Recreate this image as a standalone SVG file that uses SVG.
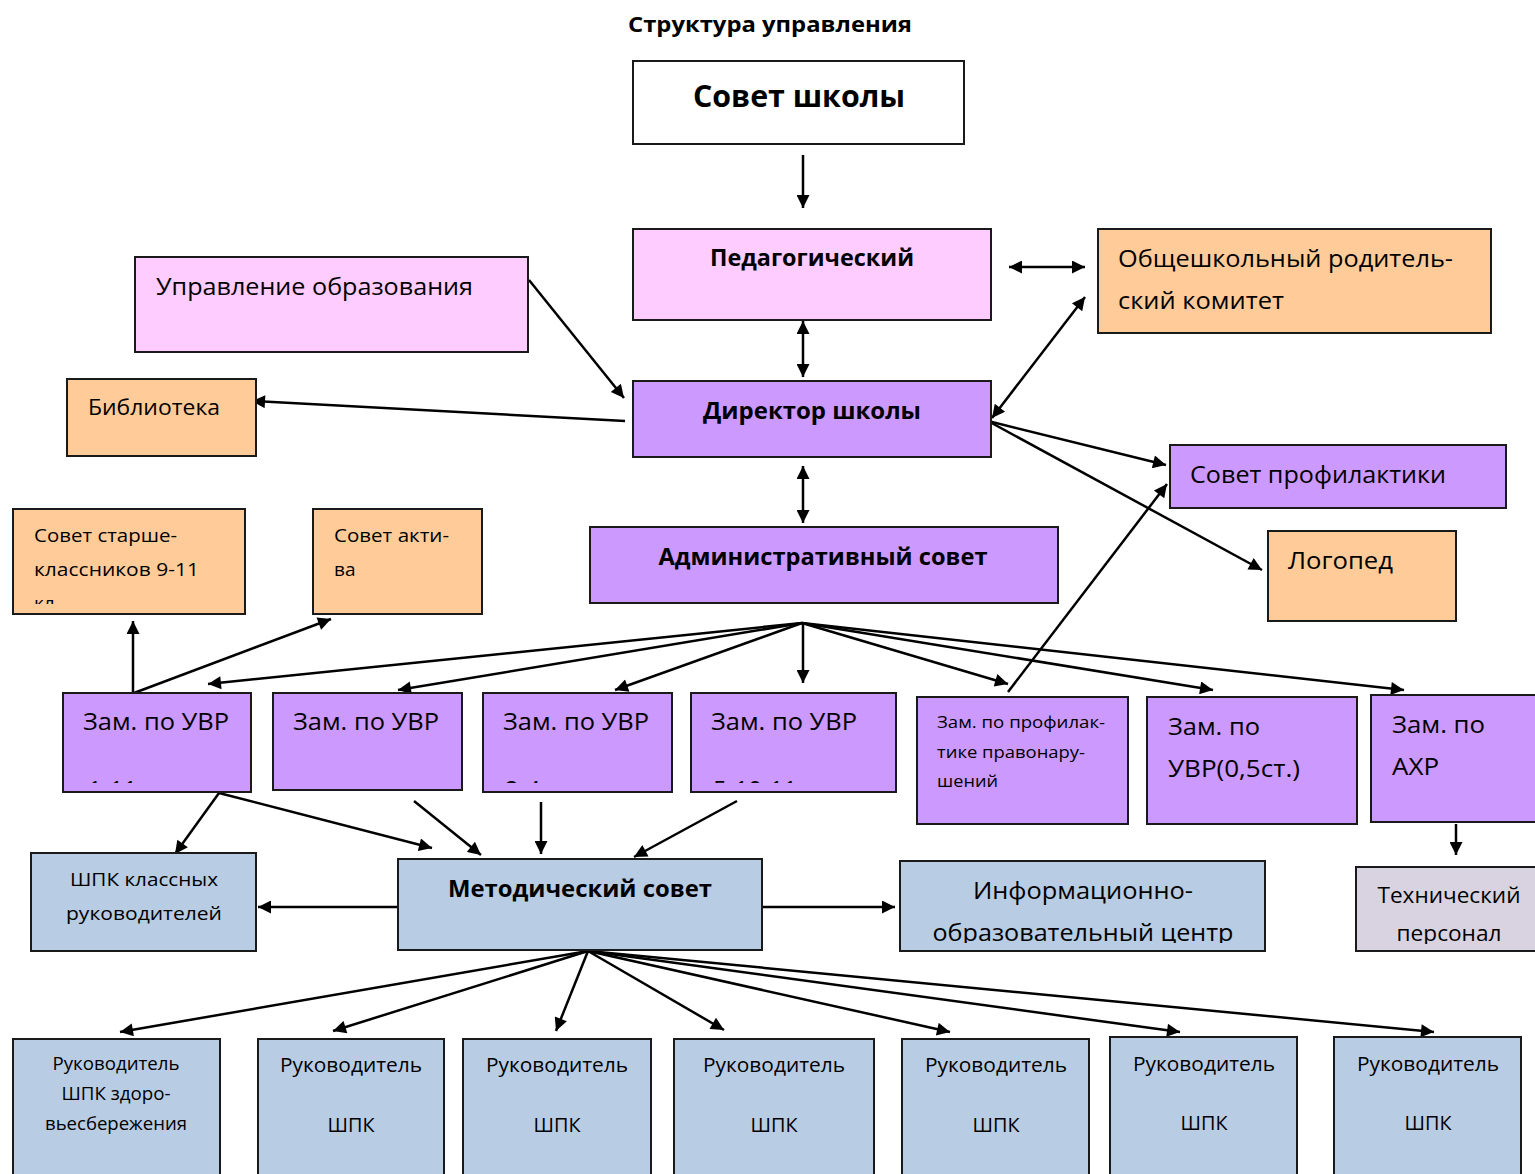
<svg xmlns="http://www.w3.org/2000/svg" width="1535" height="1174" viewBox="0 0 1535 1174">
<style>
.box{stroke:#1a1a1a;stroke-width:2}
.w{fill:#ffffff}.pk{fill:#FFCCFF}.or{fill:#FFCC99}.pu{fill:#CC99FF}.bl{fill:#B8CCE4}.gr{fill:#D9D3E1}
text{font-family:"Open Sans","Noto Sans","Liberation Sans",sans-serif;fill:#000}
.b{font-weight:bold}
.c{stroke:#000;stroke-width:2.5;fill:none}
.e{marker-end:url(#ah)}
.s{marker-start:url(#ah)}
</style>
<defs>
<marker id="ah" viewBox="0 0 10 10" refX="10" refY="5" markerWidth="17" markerHeight="13" markerUnits="userSpaceOnUse" orient="auto-start-reverse"><path d="M0,0 L10,5 L0,10 z" fill="#000"/></marker>
<clipPath id="cp1"><rect x="13" y="509" width="232" height="95"/></clipPath>
<clipPath id="cz1"><rect x="63" y="693" width="188" height="90"/></clipPath>
<clipPath id="cz3"><rect x="483" y="693" width="189" height="90"/></clipPath>
<clipPath id="cz4"><rect x="691" y="693" width="205" height="90"/></clipPath>
<clipPath id="cinf"><rect x="900" y="861" width="365" height="82"/></clipPath>
<clipPath id="ctech"><rect x="1356" y="867" width="184" height="77"/></clipPath>
</defs>

<text x="770" y="32" class="b" font-size="21" text-anchor="middle" textLength="284" lengthAdjust="spacingAndGlyphs">Структура управления</text>

<g id="connectors">
<line class="c e" x1="803" y1="155" x2="803" y2="208"/>
<line class="c e s" x1="1009" y1="267" x2="1085" y2="267"/>
<line class="c e s" x1="803" y1="321" x2="803" y2="377"/>
<line class="c e" x1="529" y1="280" x2="624" y2="398"/>
<line class="c e" x1="625" y1="421" x2="252" y2="401"/>
<line class="c e s" x1="992" y1="418" x2="1085" y2="297"/>
<line class="c e" x1="988" y1="421" x2="1166" y2="465"/>
<line class="c e" x1="988" y1="421" x2="1262" y2="570"/>
<line class="c e s" x1="803" y1="466" x2="803" y2="523"/>
<line class="c e" x1="802" y1="623" x2="208" y2="684"/>
<line class="c e" x1="802" y1="623" x2="398" y2="690"/>
<line class="c e" x1="802" y1="623" x2="615" y2="690"/>
<line class="c e" x1="803" y1="623" x2="803" y2="683"/>
<line class="c e" x1="802" y1="623" x2="1008" y2="684"/>
<line class="c e" x1="802" y1="623" x2="1213" y2="690"/>
<line class="c e" x1="802" y1="623" x2="1404" y2="690"/>
<line class="c e" x1="1008" y1="692" x2="1167" y2="484"/>
<line class="c e" x1="133" y1="693" x2="133" y2="621"/>
<line class="c e" x1="134" y1="693" x2="331" y2="619"/>
<line class="c e" x1="219" y1="793" x2="175" y2="854"/>
<line class="c e" x1="219" y1="793" x2="432" y2="848"/>
<line class="c e" x1="414" y1="801" x2="481" y2="855"/>
<line class="c e" x1="541" y1="802" x2="541" y2="854"/>
<line class="c e" x1="737" y1="801" x2="634" y2="857"/>
<line class="c e" x1="398" y1="907" x2="258" y2="907"/>
<line class="c e" x1="763" y1="907" x2="895" y2="907"/>
<line class="c e" x1="1456" y1="824" x2="1456" y2="855"/>
<line class="c e" x1="588" y1="951" x2="120" y2="1032"/>
<line class="c e" x1="588" y1="951" x2="333" y2="1031"/>
<line class="c e" x1="588" y1="951" x2="556" y2="1031"/>
<line class="c e" x1="588" y1="951" x2="724" y2="1030"/>
<line class="c e" x1="588" y1="951" x2="950" y2="1032"/>
<line class="c e" x1="588" y1="951" x2="1180" y2="1032"/>
<line class="c e" x1="588" y1="951" x2="1434" y2="1032"/>
</g>

<g id="n-sovet-shkoly"><rect class="box w" x="633" y="61" width="331" height="83"/>
<text x="799" y="107" class="b" font-size="31" text-anchor="middle" textLength="212" lengthAdjust="spacingAndGlyphs">Совет школы</text></g>

<g id="n-ped"><rect class="box pk" x="633" y="229" width="358" height="91"/>
<text x="812" y="266" class="b" font-size="24" text-anchor="middle" textLength="204" lengthAdjust="spacingAndGlyphs">Педагогический</text></g>

<g id="n-uprav"><rect class="box pk" x="135" y="257" width="393" height="95"/>
<text x="156" y="295" font-size="24" textLength="317" lengthAdjust="spacingAndGlyphs">Управление образования</text></g>

<g id="n-rodkom"><rect class="box or" x="1098" y="229" width="393" height="104"/>
<text x="1118" y="267" font-size="24" textLength="335" lengthAdjust="spacingAndGlyphs">Общешкольный родитель-</text>
<text x="1118" y="309" font-size="24" textLength="166" lengthAdjust="spacingAndGlyphs">ский комитет</text></g>

<g id="n-bibl"><rect class="box or" x="67" y="379" width="189" height="77"/>
<text x="88" y="415" font-size="22" textLength="132" lengthAdjust="spacingAndGlyphs">Библиотека</text></g>

<g id="n-dir"><rect class="box pu" x="633" y="381" width="358" height="76"/>
<text x="812" y="419" class="b" font-size="24" text-anchor="middle" textLength="218" lengthAdjust="spacingAndGlyphs">Директор школы</text></g>

<g id="n-sovprof"><rect class="box pu" x="1170" y="445" width="336" height="63"/>
<text x="1190" y="483" font-size="24" textLength="256" lengthAdjust="spacingAndGlyphs">Совет профилактики</text></g>

<g id="n-logoped"><rect class="box or" x="1268" y="531" width="188" height="90"/>
<text x="1288" y="569" font-size="24" textLength="105" lengthAdjust="spacingAndGlyphs">Логопед</text></g>

<g id="n-admin"><rect class="box pu" x="590" y="527" width="468" height="76"/>
<text x="823" y="565" class="b" font-size="24" text-anchor="middle" textLength="329" lengthAdjust="spacingAndGlyphs">Административный совет</text></g>

<g id="n-starshe"><rect class="box or" x="13" y="509" width="232" height="105"/>
<text x="34" y="542" font-size="19" textLength="143" lengthAdjust="spacingAndGlyphs">Совет старше-</text>
<text x="34" y="576" font-size="19" textLength="165" lengthAdjust="spacingAndGlyphs">классников 9-11</text>
<text x="34" y="610" font-size="19" clip-path="url(#cp1)">кл</text></g>

<g id="n-aktiv"><rect class="box or" x="313" y="509" width="169" height="105"/>
<text x="334" y="542" font-size="19" textLength="115" lengthAdjust="spacingAndGlyphs">Совет акти-</text>
<text x="334" y="576" font-size="19">ва</text></g>

<g id="n-zam1"><rect class="box pu" x="63" y="693" width="188" height="99"/>
<text x="83" y="730" font-size="24" textLength="146" lengthAdjust="spacingAndGlyphs">Зам. по УВР</text>
<text x="88" y="798" font-size="24" clip-path="url(#cz1)">1-11</text></g>

<g id="n-zam2"><rect class="box pu" x="273" y="693" width="189" height="97"/>
<text x="293" y="730" font-size="24" textLength="146" lengthAdjust="spacingAndGlyphs">Зам. по УВР</text></g>

<g id="n-zam3"><rect class="box pu" x="483" y="693" width="189" height="99"/>
<text x="503" y="730" font-size="24" textLength="146" lengthAdjust="spacingAndGlyphs">Зам. по УВР</text>
<text x="505" y="798" font-size="24" clip-path="url(#cz3)">2-4</text></g>

<g id="n-zam4"><rect class="box pu" x="691" y="693" width="205" height="99"/>
<text x="711" y="730" font-size="24" textLength="146" lengthAdjust="spacingAndGlyphs">Зам. по УВР</text>
<text x="713" y="798" font-size="24" clip-path="url(#cz4)">5-10-11</text></g>

<g id="n-zamprof"><rect class="box pu" x="917" y="697" width="211" height="127"/>
<text x="937" y="728" font-size="17" textLength="168" lengthAdjust="spacingAndGlyphs">Зам. по профилак-</text>
<text x="937" y="758" font-size="17" textLength="148" lengthAdjust="spacingAndGlyphs">тике правонару-</text>
<text x="937" y="787" font-size="17" textLength="61" lengthAdjust="spacingAndGlyphs">шений</text></g>

<g id="n-zam05"><rect class="box pu" x="1147" y="697" width="210" height="127"/>
<text x="1168" y="735" font-size="24" textLength="92" lengthAdjust="spacingAndGlyphs">Зам. по</text>
<text x="1168" y="777" font-size="24" textLength="132" lengthAdjust="spacingAndGlyphs">УВР(0,5ст.)</text></g>

<g id="n-ahr"><rect class="box pu" x="1371" y="695" width="170" height="127"/>
<text x="1392" y="733" font-size="24" textLength="93" lengthAdjust="spacingAndGlyphs">Зам. по</text>
<text x="1392" y="775" font-size="24" textLength="47" lengthAdjust="spacingAndGlyphs">АХР</text></g>

<g id="n-tech"><rect class="box gr" x="1356" y="867" width="184" height="84"/>
<text x="1449" y="903" font-size="22" text-anchor="middle" textLength="143" lengthAdjust="spacingAndGlyphs">Технический</text>
<text x="1449" y="941" font-size="22" text-anchor="middle" textLength="105" lengthAdjust="spacingAndGlyphs" clip-path="url(#ctech)">персонал</text></g>

<g id="n-shpkkl"><rect class="box bl" x="31" y="853" width="225" height="98"/>
<text x="144" y="886" font-size="19" text-anchor="middle" textLength="148" lengthAdjust="spacingAndGlyphs">ШПК классных</text>
<text x="144" y="920" font-size="19" text-anchor="middle" textLength="156" lengthAdjust="spacingAndGlyphs">руководителей</text></g>

<g id="n-metod"><rect class="box bl" x="398" y="859" width="364" height="91"/>
<text x="580" y="897" class="b" font-size="24" text-anchor="middle" textLength="264" lengthAdjust="spacingAndGlyphs">Методический совет</text></g>

<g id="n-inf"><rect class="box bl" x="900" y="861" width="365" height="90"/>
<text x="1083" y="899" font-size="24" text-anchor="middle" textLength="220" lengthAdjust="spacingAndGlyphs">Информационно-</text>
<text x="1083" y="941" font-size="24" text-anchor="middle" textLength="301" lengthAdjust="spacingAndGlyphs" clip-path="url(#cinf)">образовательный центр</text></g>

<g id="n-ruk1"><rect class="box bl" x="13" y="1039" width="207" height="145"/>
<text x="116" y="1070" font-size="18" text-anchor="middle" textLength="127" lengthAdjust="spacingAndGlyphs">Руководитель</text>
<text x="116" y="1100" font-size="18" text-anchor="middle" textLength="109" lengthAdjust="spacingAndGlyphs">ШПК здоро-</text>
<text x="116" y="1130" font-size="18" text-anchor="middle" textLength="142" lengthAdjust="spacingAndGlyphs">вьесбережения</text></g>

<g id="n-ruk2"><rect class="box bl" x="258" y="1039" width="186" height="145"/>
<text x="351" y="1072" font-size="20" text-anchor="middle" textLength="142" lengthAdjust="spacingAndGlyphs">Руководитель</text>
<text x="351" y="1132" font-size="20" text-anchor="middle" textLength="47" lengthAdjust="spacingAndGlyphs">ШПК</text></g>

<g id="n-ruk3"><rect class="box bl" x="463" y="1039" width="188" height="145"/>
<text x="557" y="1072" font-size="20" text-anchor="middle" textLength="142" lengthAdjust="spacingAndGlyphs">Руководитель</text>
<text x="557" y="1132" font-size="20" text-anchor="middle" textLength="47" lengthAdjust="spacingAndGlyphs">ШПК</text></g>

<g id="n-ruk4"><rect class="box bl" x="674" y="1039" width="200" height="145"/>
<text x="774" y="1072" font-size="20" text-anchor="middle" textLength="142" lengthAdjust="spacingAndGlyphs">Руководитель</text>
<text x="774" y="1132" font-size="20" text-anchor="middle" textLength="47" lengthAdjust="spacingAndGlyphs">ШПК</text></g>

<g id="n-ruk5"><rect class="box bl" x="902" y="1039" width="187" height="145"/>
<text x="996" y="1072" font-size="20" text-anchor="middle" textLength="142" lengthAdjust="spacingAndGlyphs">Руководитель</text>
<text x="996" y="1132" font-size="20" text-anchor="middle" textLength="47" lengthAdjust="spacingAndGlyphs">ШПК</text></g>

<g id="n-ruk6"><rect class="box bl" x="1110" y="1037" width="187" height="147"/>
<text x="1204" y="1071" font-size="20" text-anchor="middle" textLength="142" lengthAdjust="spacingAndGlyphs">Руководитель</text>
<text x="1204" y="1130" font-size="20" text-anchor="middle" textLength="47" lengthAdjust="spacingAndGlyphs">ШПК</text></g>

<g id="n-ruk7"><rect class="box bl" x="1334" y="1037" width="187" height="147"/>
<text x="1428" y="1071" font-size="20" text-anchor="middle" textLength="142" lengthAdjust="spacingAndGlyphs">Руководитель</text>
<text x="1428" y="1130" font-size="20" text-anchor="middle" textLength="47" lengthAdjust="spacingAndGlyphs">ШПК</text></g>
</svg>
